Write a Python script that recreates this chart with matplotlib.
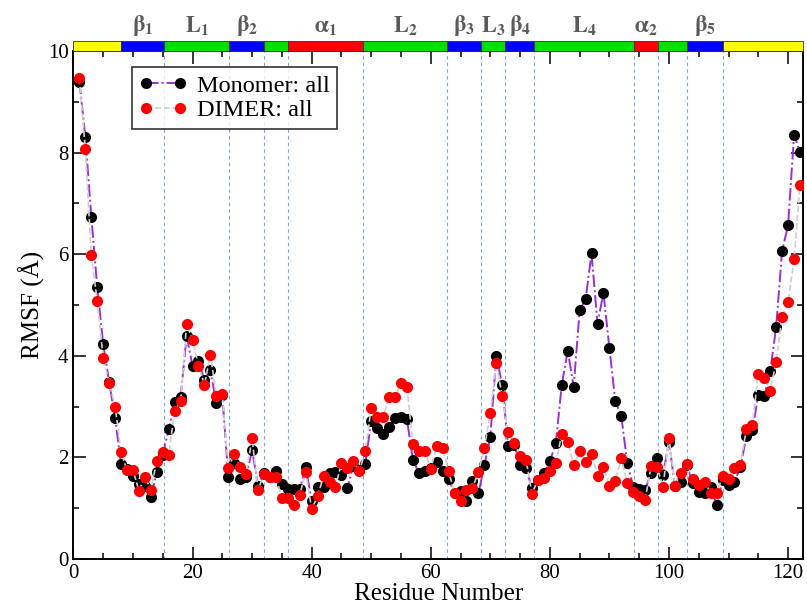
import numpy as np
import matplotlib
matplotlib.use('Agg')
import matplotlib.pyplot as plt
from matplotlib.patches import Rectangle
from matplotlib.ticker import MultipleLocator

plt.rcParams['font.family'] = ['Liberation Serif', 'DejaVu Serif']
plt.rcParams['mathtext.fontset'] = 'stix'

residues = np.arange(1, 123)

monomer = [9.40, 8.31, 6.74, 5.35, 4.23, 3.48, 2.77, 1.87, 1.77, 1.64,
           1.48, 1.44, 1.21, 1.70, 2.05, 2.55, 3.08, 3.18, 4.39, 3.80,
           3.90, 3.52, 3.71, 3.06, 3.22, 1.62, 1.88, 1.57, 1.61, 2.15,
           1.44, 1.68, 1.62, 1.73, 1.48, 1.37, 1.37, 1.37, 1.80, 1.14,
           1.41, 1.42, 1.69, 1.70, 1.65, 1.39, 1.83, 1.75, 1.86, 2.72,
           2.57, 2.46, 2.60, 2.78, 2.80, 2.75, 1.95, 1.69, 1.72, 1.78,
           1.90, 1.72, 1.57, 1.29, 1.34, 1.14, 1.53, 1.29, 1.84, 2.40,
           4.00, 3.43, 2.22, 2.25, 1.85, 1.78, 1.39, 1.55, 1.69, 1.92,
           2.28, 3.43, 4.10, 3.39, 4.90, 5.11, 6.02, 4.63, 5.24, 4.15,
           3.10, 2.81, 1.88, 1.42, 1.38, 1.36, 1.69, 1.98, 1.65, 2.31,
           1.43, 1.52, 1.85, 1.49, 1.32, 1.29, 1.42, 1.06, 1.56, 1.46,
           1.52, 1.81, 2.41, 2.53, 3.23, 3.21, 3.69, 4.57, 6.07, 6.57,
           8.35, 8.02]

dimer = [9.47, 8.07, 5.98, 5.08, 3.95, 3.47, 3.00, 2.10, 1.74, 1.75,
         1.34, 1.62, 1.36, 1.93, 2.10, 2.05, 2.92, 3.10, 4.62, 4.32,
         3.80, 3.43, 4.02, 3.21, 3.25, 1.78, 2.07, 1.80, 1.67, 2.37,
         1.36, 1.67, 1.61, 1.62, 1.19, 1.20, 1.06, 1.26, 1.71, 0.98,
         1.23, 1.63, 1.52, 1.42, 1.88, 1.78, 1.92, 1.72, 2.12, 2.97,
         2.80, 2.79, 3.18, 3.18, 3.46, 3.39, 2.26, 2.12, 2.12, 1.77,
         2.22, 2.19, 1.72, 1.29, 1.13, 1.36, 1.39, 1.71, 2.18, 2.87,
         3.86, 3.20, 2.49, 2.28, 2.03, 1.95, 1.28, 1.56, 1.59, 1.72,
         1.88, 2.46, 2.31, 1.84, 2.13, 1.90, 2.07, 1.63, 1.80, 1.44,
         1.54, 1.98, 1.49, 1.31, 1.24, 1.16, 1.82, 1.80, 1.42, 2.38,
         1.44, 1.69, 1.87, 1.57, 1.46, 1.52, 1.29, 1.29, 1.63, 1.58,
         1.78, 1.85, 2.56, 2.64, 3.64, 3.56, 3.31, 3.88, 4.77, 5.05,
         5.90, 7.36]

# secondary structure segments along the top
seg_start = [0, 8, 15.2, 26.2, 32, 36, 48.7, 62.7, 68.5, 72.5, 77.4, 94.2, 98.1, 103, 109]
seg_end = [8, 15.2, 26.2, 32, 36, 48.7, 62.7, 68.5, 72.5, 77.4, 94.2, 98.1, 103, 109, 122.5]
seg_color = ['#ffff00', '#0000ff', '#00e000', '#0000ff', '#00e000', '#ff0000', '#00e000',
             '#0000ff', '#00e000', '#0000ff', '#00e000', '#ff0000', '#00e000', '#0000ff', '#ffff00']
seg_label = ['', r'$\mathbf{\beta_1}$', r'$\mathbf{L_1}$', r'$\mathbf{\beta_2}$', '',
             r'$\mathbf{\alpha_1}$', r'$\mathbf{L_2}$', r'$\mathbf{\beta_3}$', r'$\mathbf{L_3}$',
             r'$\mathbf{\beta_4}$', r'$\mathbf{L_4}$', r'$\mathbf{\alpha_2}$', '',
             r'$\mathbf{\beta_5}$', '']
boundaries = [15.2, 26.2, 32, 36, 48.7, 62.7, 68.5, 72.5, 77.4, 94.2, 98.1, 103, 109]

fig = plt.figure(figsize=(8.07, 6.10), dpi=100)
ax = fig.add_axes([0.091, 0.084, 0.904, 0.832])

for b in boundaries:
    ax.axvline(b, color='#7da3d8', ls=(0, (3, 3)), lw=0.8, zorder=1)

ax.plot(residues, monomer, color='#9a2fd6', ls='-.', lw=1.4, marker='o', ms=7,
        mfc='black', mec='black', label='Monomer: all', zorder=3)
ax.plot(residues, dimer, color='#cfcfcf', ls='--', lw=1.2, marker='o', ms=7,
        mfc='red', mec='red', label='DIMER: all', zorder=4)

for s, e, c, lab in zip(seg_start, seg_end, seg_color, seg_label):
    ax.add_patch(Rectangle((s, 10), e - s, 0.2, facecolor=c, edgecolor='#333333',
                           lw=0.6, clip_on=False, zorder=5))
    if lab:
        ax.text((s + e) / 2, 10.27, lab, ha='center', va='bottom', fontsize=16,
                color='#5a5a5a')

ax.set_xlim(0, 122.5)
ax.set_ylim(0, 10)
ax.xaxis.set_major_locator(MultipleLocator(20))
ax.xaxis.set_minor_locator(MultipleLocator(5))
ax.yaxis.set_major_locator(MultipleLocator(2))
ax.yaxis.set_minor_locator(MultipleLocator(1))
ax.tick_params(which='both', direction='in', top=True, right=True, labelsize=15, width=1.1)
ax.tick_params(which='major', length=9)
ax.tick_params(which='minor', length=4.5)
for sp in ax.spines.values():
    sp.set_linewidth(1.4)

ax.set_xlabel('Residue Number', fontsize=18, labelpad=0)
ax.set_ylabel('RMSF (Å)', fontsize=18, labelpad=2)

leg = ax.legend(loc='upper left', bbox_to_anchor=(0.08, 0.968), fontsize=17.5,
                frameon=True, fancybox=False, edgecolor='black', borderpad=0.3,
                numpoints=2, handlelength=2.0, handletextpad=0.4, labelspacing=0.1,
                borderaxespad=0)
leg.get_frame().set_linewidth(1.2)

fig.savefig('out.png', dpi=100)
